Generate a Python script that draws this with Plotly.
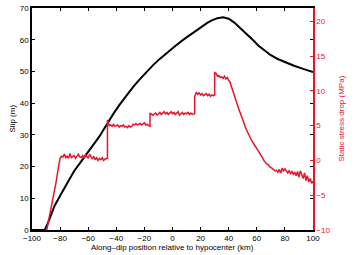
import plotly.graph_objects as go

# Slip (black, left axis, m)
slip_x = [-100, -91, -89, -87, -84, -80, -76, -73, -70, -66, -62, -59, -55, -52, -49, -46, -42, -38, -33, -28, -24, -19,
          -14, -9.5, -4, 2.4, 8, 14, 18, 21, 25, 28, 32, 36, 40, 44, 47, 51, 54, 58, 61, 65, 70, 74.5, 80, 86.5, 93, 100]
slip_y = [0, 0, 1.8, 4.2, 7.6, 10.8, 14.0, 16.3, 18.6, 21.0, 23.4, 25.2, 27.6, 29.5, 31.7, 34.0, 36.7, 39.3, 42.3, 45.1,
          47.2, 49.7, 51.9, 53.8, 55.9, 58.2, 60.1, 62.0, 63.3, 64.3, 65.4, 66.1, 66.8, 67.1, 66.6, 65.4, 64.2, 62.6,
          61.3, 59.6, 58.2, 56.7, 55.1, 54.0, 52.9, 51.8, 50.8, 49.8]

# Static stress drop (red, right axis, MPa)
stress_x = [-89.5, -88, -87, -86, -85, -84, -83, -82, -81, -80, -79, -78, -77, -76, -75, -74, -73, -72, -71, -70,
            -69, -68, -67, -66, -65, -64, -63, -62, -61, -60, -59, -58, -57, -56, -55, -54, -53, -52, -51, -50,
            -49, -48, -47, -46.3, -46.3, -45.5, -45, -44, -43, -42, -41, -40, -39, -38, -37, -36, -35, -34, -33, -32,
            -31, -30, -29, -28, -27, -26, -25, -24, -23, -22, -21, -20, -19, -18, -17, -16, -16, -15, -14, -13,
            -12, -11, -10, -9, -8, -7, -6, -5, -4, -3, -2, -1, 0, 1, 2, 3, 4, 5, 6, 7,
            8, 9, 10, 11, 12, 13, 14, 15, 15.8, 15.8, 17, 18, 19, 20, 21, 22, 23, 24, 25, 26,
            27, 28, 29, 30, 30, 31, 32, 33, 34, 35, 36, 37, 38, 39, 40, 41, 42, 43, 44, 45,
            46, 47, 48, 49, 50, 51, 52, 53, 54, 55, 56, 57, 58, 59, 60, 61, 62, 63, 64, 65,
            66, 67, 68, 69, 70, 71, 72, 73, 74, 75, 76, 77, 78, 79, 80, 81, 82, 83, 84, 85,
            86, 87, 88, 89, 90, 91, 92, 93, 94, 95, 96, 97, 98, 99, 100]
stress_y = [-10, -8.3, -7.1, -6.2, -5.2, -4.3, -3.3, -2.3, -0.8, 0.3, 0.6, 0.5, 0.9, 0.4, 0.6, 0.3, 1.0, 0.4, 0.5, 0.7,
            0.3, 0.6, 0.9, 0.5, 0.4, 0.7, 0.3, 0.8, 0.5, 0.3, 0.9, 0.5, 0.2, 0.6, 0.1, 0.4, 0.0, 0.3, 0.1, 0.4,
            0.0, 0.2, 0.3, 0.3, 5.8, 5.2, 5.0, 5.1, 4.9, 5.2, 4.9, 5.0, 5.1, 4.8, 5.0, 4.9, 5.1, 4.8, 4.9, 4.7,
            5.0, 4.8, 4.9, 5.2, 5.1, 5.3, 5.1, 5.2, 5.3, 5.1, 5.2, 5.4, 5.1, 5.2, 5.0, 4.9, 6.8, 6.6, 6.5, 6.7,
            6.8, 6.5, 6.7, 6.9, 6.6, 6.8, 7.0, 6.7, 6.9, 6.6, 6.8, 7.0, 6.7, 6.9, 6.6, 6.8, 7.0, 6.5, 6.7, 6.9,
            6.6, 6.8, 6.7, 6.9, 6.6, 6.8, 6.6, 6.7, 6.7, 9.2, 9.8, 9.5, 9.7, 9.4, 9.6, 9.3, 9.5, 9.6, 9.3, 9.5,
            9.2, 9.4, 9.3, 9.4, 12.6, 12.5, 12.1, 12.2, 11.9, 12.0, 11.8, 12.1, 11.7, 11.9, 11.5, 11.2, 10.6, 9.9, 9.2, 8.7,
            8.1, 7.5, 7.0, 6.4, 5.8, 5.3, 4.7, 4.2, 3.8, 3.4, 3.0, 2.6, 2.3, 2.0, 1.7, 1.4, 1.1, 0.7, 0.4, 0.0,
            -0.3, -0.5, -0.6, -0.9, -1.0, -1.2, -1.3, -1.5, -1.4, -1.7, -1.3, -1.8, -1.1, -1.5, -1.2, -1.6, -1.8, -1.5, -1.9, -1.6,
            -2.0, -1.7, -2.2, -1.6, -2.4, -1.5, -2.1, -2.6, -1.8, -2.9, -2.2, -3.1, -2.6, -3.3, -3.0]

x_ticks = [-100, -80, -60, -40, -20, 0, 20, 40, 60, 80, 100]
slip_ticks = [0, 10, 20, 30, 40, 50, 60, 70]
stress_ticks = [-10, -5, 0, 5, 10, 15, 20]

x_title = "Along\u2013dip position relative to hypocenter (km)"
slip_title = "Slip (m)"
stress_title = "Static stress drop (MPa)"

RED = "#e8142c"
FONT = "Liberation Sans, Arial, sans-serif"

fig = go.Figure()
fig.add_trace(go.Scatter(x=slip_x, y=slip_y, mode="lines", line=dict(color="black", width=2),
                         yaxis="y", showlegend=False))
fig.add_trace(go.Scatter(x=stress_x, y=stress_y, mode="lines", line=dict(color=RED, width=1.5),
                         yaxis="y2", showlegend=False))

fig.update_layout(
    width=359, height=255,
    margin=dict(l=32, r=46, t=8, b=25),
    paper_bgcolor="white", plot_bgcolor="white",
    font=dict(family=FONT, size=8, color="black"),
    xaxis=dict(range=[-100, 100], tickvals=x_ticks, showgrid=False, zeroline=False, automargin=False,
               showline=True, linecolor="black", linewidth=1.5, mirror="ticks",
               ticks="inside", ticklen=3, tickcolor="black", tickfont=dict(size=8)),
    yaxis=dict(range=[0, 70], tickvals=slip_ticks, showgrid=False, zeroline=False, automargin=False,
               showline=True, linecolor="black", linewidth=1.5, mirror="ticks",
               ticks="inside", ticklen=3, tickcolor="black", tickfont=dict(size=8)),
    yaxis2=dict(range=[-10, 21.9], tickvals=stress_ticks, overlaying="y", side="right", showgrid=False, zeroline=False,
                automargin=False, showline=True, linecolor=RED, linewidth=1.5,
                ticks="inside", ticklen=3, tickcolor=RED, tickfont=dict(size=8, color=RED)),
    annotations=[
        dict(text=x_title, xref="paper", yref="paper", x=0.5, y=0, xanchor="center", yanchor="top",
             yshift=-11, showarrow=False, font=dict(size=8, color="black")),
        dict(text=slip_title, xref="paper", yref="paper", x=0, y=0.5, xanchor="right", yanchor="middle",
             xshift=-14, textangle=-90, showarrow=False, font=dict(size=8, color="black")),
        dict(text=stress_title, xref="paper", yref="paper", x=1, y=0.5, xanchor="left", yanchor="middle",
             xshift=21, textangle=-90, showarrow=False, font=dict(size=8, color=RED)),
    ],
)

fig.write_html("out.html")
